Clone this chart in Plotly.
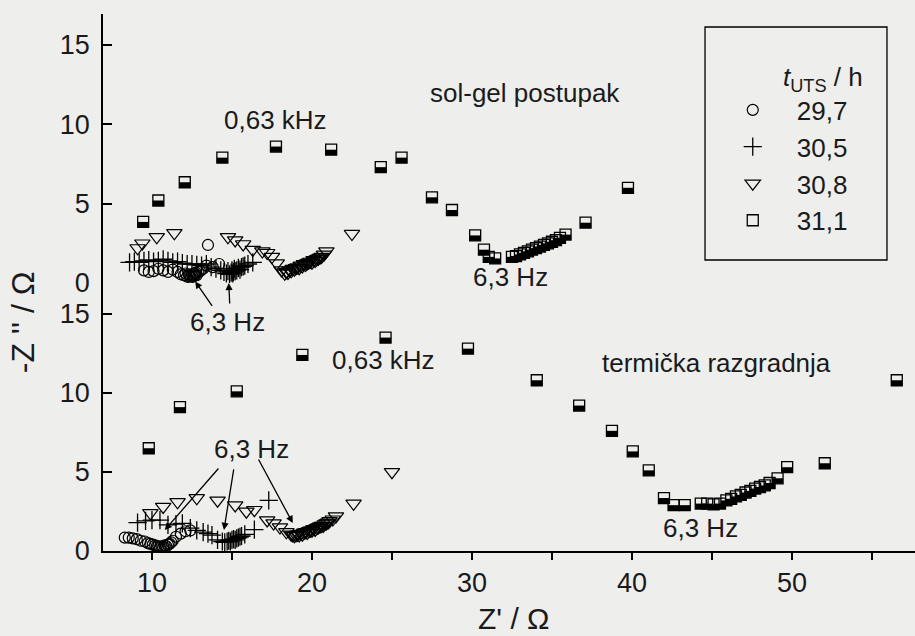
import plotly.graph_objects as go

# ---- datos: sol-gel postupak (panel superior) ----
circ_x_sg = [9.5, 9.8, 10.1, 10.4, 10.7, 11.0, 11.3, 11.6, 11.8, 12.0, 12.1, 12.2, 12.3, 12.35, 12.4, 12.5, 12.55, 12.6, 12.65, 12.7, 12.75, 12.8, 12.9, 13.0, 13.2, 13.5, 13.4, 13.8, 14.2]
circ_y_sg = [0.8, 0.7, 0.75, 0.9, 0.8, 0.7, 0.85, 0.7, 0.55, 0.5, 0.6, 0.4, 0.55, 0.45, 0.35, 0.5, 0.4, 0.6, 0.45, 0.55, 0.65, 0.5, 0.7, 0.75, 0.9, 2.4, 1.1, 1.0, 1.2]

cross_x_sg = [8.6, 8.9, 9.2, 9.5, 9.8, 10.1, 10.4, 10.7, 11.0, 11.3, 11.6, 11.9, 12.2, 12.5, 12.8, 13.1, 13.4, 13.7, 14.0, 14.3, 14.5, 14.65, 14.75, 14.85, 14.95, 15.0, 15.05, 15.1, 15.15, 15.2, 15.3, 15.4, 15.5, 15.6, 15.7, 15.8, 16.0, 16.3]
cross_y_sg = [1.3, 1.35, 1.3, 1.4, 1.45, 1.35, 1.4, 1.5, 1.4, 1.3, 1.35, 1.25, 1.2, 1.2, 1.15, 1.1, 1.2, 1.0, 0.9, 0.8, 0.7, 0.6, 0.75, 0.55, 0.65, 0.8, 0.6, 0.7, 0.9, 0.75, 0.8, 0.95, 0.85, 1.0, 1.05, 1.1, 1.2, 1.3]

tri_x_sg = [9.1, 9.4, 10.3, 11.4, 14.75, 15.2, 15.7, 16.3, 16.9, 17.2, 17.5, 17.8, 18.1, 18.3, 18.4, 18.5, 18.6, 18.7, 18.8, 18.9, 19.0, 19.1, 19.2, 19.3, 19.4, 19.5, 19.6, 19.7, 19.8, 19.9, 20.0, 20.1, 20.2, 20.3, 20.4, 20.5, 20.6, 20.75, 20.9, 22.5]
tri_y_sg = [2.2, 2.5, 2.9, 3.15, 2.9, 2.7, 2.45, 2.1, 2.0, 1.9, 1.65, 1.25, 0.8, 0.6, 0.7, 0.65, 0.8, 0.75, 0.9, 0.85, 0.95, 1.0, 0.95, 1.1, 1.05, 1.2, 1.15, 1.25, 1.3, 1.35, 1.3, 1.45, 1.4, 1.5, 1.55, 1.6, 1.65, 1.8, 2.0, 3.1]

sq_x_sg = [9.45, 10.4, 12.05, 14.4, 17.75, 21.2, 24.3, 25.6, 27.5, 28.75, 30.2, 30.75, 31.05, 31.45, 32.5, 32.75, 33.0, 33.25, 33.5, 33.75, 34.0, 34.25, 34.5, 34.75, 35.0, 35.25, 35.5, 35.85, 37.1, 39.75]
sq_y_sg = [3.85, 5.2, 6.35, 7.9, 8.6, 8.4, 7.3, 7.9, 5.4, 4.6, 3.0, 2.1, 1.65, 1.55, 1.65, 1.7, 1.8, 1.9, 2.0, 2.1, 2.2, 2.3, 2.4, 2.5, 2.6, 2.7, 2.85, 3.05, 3.8, 6.0]

# ---- datos: termička razgradnja (panel inferior) ----
circ_x_td = [8.3, 8.55, 8.8, 9.05, 9.3, 9.55, 9.75, 9.9, 10.05, 10.2, 10.3, 10.4, 10.5, 10.6, 10.7, 10.8, 10.9, 11.0, 11.1, 11.2, 11.3, 11.5, 11.8, 12.1, 12.4]
circ_y_td = [0.85, 0.85, 0.8, 0.75, 0.65, 0.6, 0.5, 0.45, 0.4, 0.35, 0.3, 0.3, 0.25, 0.3, 0.25, 0.35, 0.3, 0.4, 0.45, 0.55, 0.65, 0.9, 1.1, 1.25, 1.3]

cross_x_td = [9.1, 9.6, 10.0, 10.5, 11.0, 11.5, 11.9, 12.4, 12.8, 13.2, 13.5, 13.75, 14.1, 14.4, 14.55, 14.7, 14.8, 14.9, 15.0, 15.1, 15.2, 15.3, 15.4, 15.5, 15.6, 15.8, 16.4, 17.3]
cross_y_td = [1.8, 1.9, 1.95, 1.95, 1.65, 1.7, 1.75, 1.45, 1.3, 1.2, 1.1, 1.0, 0.7, 0.6, 0.55, 0.6, 0.65, 0.6, 0.7, 0.75, 0.7, 0.8, 0.85, 0.9, 0.95, 1.05, 1.35, 3.2]

tri_x_td = [9.9, 10.7, 11.6, 12.8, 14.1, 15.2, 15.9, 16.4, 17.2, 17.6, 18.0, 18.4, 18.7, 18.8, 18.9, 19.0, 19.1, 19.2, 19.3, 19.4, 19.5, 19.6, 19.7, 19.8, 19.9, 20.0, 20.1, 20.2, 20.3, 20.4, 20.5, 20.6, 20.7, 20.8, 20.9, 21.0, 21.1, 21.3, 21.5, 22.6, 25.0]
tri_y_td = [2.4, 2.8, 3.1, 3.35, 3.2, 2.9, 2.5, 2.6, 1.95, 1.75, 1.5, 1.2, 1.05, 1.0, 0.95, 1.0, 1.05, 1.0, 1.1, 1.05, 1.15, 1.2, 1.15, 1.25, 1.3, 1.3, 1.4, 1.35, 1.45, 1.5, 1.55, 1.6, 1.6, 1.7, 1.75, 1.8, 1.9, 2.0, 2.2, 3.0, 5.0]

sq_x_td = [9.8, 11.75, 15.3, 19.4, 24.6, 29.75, 34.05, 36.7, 38.75, 40.05, 41.05, 42.0, 42.6, 43.3, 44.3, 44.7, 45.1, 45.5, 45.9, 46.2, 46.5, 46.8, 47.1, 47.4, 47.7, 48.0, 48.3, 48.6, 49.1, 49.7, 52.05, 56.55]
sq_y_td = [6.5, 9.1, 10.1, 12.4, 13.5, 12.8, 10.8, 9.2, 7.6, 6.3, 5.1, 3.35, 2.9, 2.9, 3.0, 3.0, 2.95, 3.0, 3.2, 3.3, 3.45, 3.55, 3.7, 3.8, 3.95, 4.05, 4.15, 4.3, 4.6, 5.3, 5.55, 10.8]

series_names = ["29,7", "30,5", "30,8", "31,1"]
x_ticks = [10, 20, 30, 40, 50]
y_ticks = [0, 5, 10, 15]

BG = "#eeeeec"
FONT = "Liberation Sans, Arial, sans-serif"
TXT = "#1a1a1a"

fig = go.Figure()

def add_panel(xa, ya, cx, cy, px_, py_, tx, ty, sx, sy, legend):
    fig.add_trace(go.Scatter(x=cx, y=cy, mode="markers", name=series_names[0],
                             xaxis=xa, yaxis=ya, showlegend=legend,
                             marker=dict(symbol="circle-open", size=11, color="black",
                                         line=dict(width=1.2))))
    fig.add_trace(go.Scatter(x=px_, y=py_, mode="markers", name=series_names[1],
                             xaxis=xa, yaxis=ya, showlegend=legend,
                             marker=dict(symbol="cross-thin-open", size=13, color="black",
                                         line=dict(width=1.3, color="black"))))
    fig.add_trace(go.Scatter(x=tx, y=ty, mode="markers", name=series_names[2],
                             xaxis=xa, yaxis=ya, showlegend=legend,
                             marker=dict(symbol="triangle-down-open", size=13.5, color="black",
                                         line=dict(width=1.2))))
    fig.add_trace(go.Scatter(x=sx, y=sy, mode="markers", name=series_names[3],
                             xaxis=xa, yaxis=ya, showlegend=legend,
                             marker=dict(symbol="square-open", size=11, color="black",
                                         line=dict(width=1.3))))
    # mitad superior negra del cuadrado
    fig.add_trace(go.Scatter(x=sx, y=sy, mode="markers", xaxis=xa, yaxis=ya,
                             showlegend=False, hoverinfo="skip",
                             marker=dict(symbol="line-ew", size=7.9, angle=0, standoff=2.7,
                                         line=dict(width=5.4, color="black"))))

add_panel("x2", "y2", circ_x_sg, circ_y_sg, cross_x_sg, cross_y_sg,
          tri_x_sg, tri_y_sg, sq_x_sg, sq_y_sg, True)
add_panel("x", "y", circ_x_td, circ_y_td, cross_x_td, cross_y_td,
          tri_x_td, tri_y_td, sq_x_td, sq_y_td, False)

axis_font = dict(family=FONT, size=27, color=TXT)
yax = dict(range=[0, 16.95], tickvals=y_ticks, ticks="inside", ticklen=9, tickwidth=1.5,
           tickcolor="black", showline=True, linecolor="black", linewidth=1.5,
           showgrid=False, zeroline=False, tickfont=axis_font, ticklabelstandoff=6)

ann_font = dict(family=FONT, size=26, color=TXT)
annotations = [
    dict(text="0,63 kHz", x=17.75, y=10.27, xref="x2", yref="y2", showarrow=False, font=ann_font),
    dict(text="sol-gel postupak", x=33.3, y=11.95, xref="x2", yref="y2", showarrow=False, font=ann_font),
    dict(text="6,3 Hz", x=32.4, y=0.38, xref="x2", yref="y2", showarrow=False, font=ann_font),
    dict(text="6,3 Hz", x=14.75, y=14.5, xref="x", yref="y", showarrow=False, font=ann_font),
    dict(text="0,63 kHz", x=24.5, y=12.1, xref="x", yref="y", showarrow=False, font=ann_font),
    dict(text="termička razgradnja", x=45.3, y=11.9, xref="x", yref="y", showarrow=False, font=ann_font),
    dict(text="6,3 Hz", x=44.3, y=1.46, xref="x", yref="y", showarrow=False, font=ann_font),
    dict(text="6,3 Hz", x=16.25, y=6.46, xref="x", yref="y", showarrow=False, font=ann_font),
    # titulos de ejes
    dict(text="-Z '' / Ω", x=0, y=0.426, xref="paper", yref="paper", xshift=-80,
         xanchor="center", yanchor="middle", textangle=-90, showarrow=False,
         font=dict(family=FONT, size=32, color=TXT)),
    dict(text="Z' / Ω", x=0.505, y=0, xref="paper", yref="paper", yshift=-67,
         xanchor="center", yanchor="middle", showarrow=False,
         font=dict(family=FONT, size=30, color=TXT)),
]

# flechas hacia 6,3 Hz
arrow_style = dict(showarrow=True, arrowhead=2, arrowsize=1.1, arrowwidth=1.3,
                   arrowcolor="black", text="")
for xx, yy, ax, ay in [(12.7, 0.1, 18, 26), (14.8, 0.0, 1, 22), (18.1, -0.05, -44, 22)]:
    annotations.append(dict(x=xx, y=yy, xref="x2", yref="y2", ax=ax, ay=ay, **arrow_style))
for xx, yy, ax, ay in [(10.8, 1.33, 55, -63), (14.5, 1.33, 10, -62), (18.8, 1.77, -35, -65)]:
    annotations.append(dict(x=xx, y=yy, xref="x", yref="y", ax=ax, ay=ay, **arrow_style))

fig.update_layout(
    width=915, height=636,
    margin=dict(l=103, r=0, t=14, b=85),
    paper_bgcolor=BG, plot_bgcolor=BG,
    font=dict(family=FONT, color=TXT),
    xaxis=dict(domain=[0, 1], anchor="y", range=[6.94, 57.69], tickvals=x_ticks,
               ticks="outside", ticklen=7, tickwidth=1.5, tickcolor="black",
               minor=dict(dtick=5, tick0=0, ticks="outside", ticklen=7, tickwidth=1.5,
                          tickcolor="black"),
               showline=True, linecolor="black", linewidth=1.5, showgrid=False,
               zeroline=False, tickfont=axis_font, ticklabelstandoff=0),
    xaxis2=dict(domain=[0, 1], anchor="y2", matches="x", showticklabels=False,
                showline=False, ticks="", showgrid=False, zeroline=False),
    yaxis=dict(domain=[0, 0.499], anchor="x", **yax),
    yaxis2=dict(domain=[0.499, 1], anchor="x2", **yax),
    legend=dict(x=0.746, y=0.928, xanchor="left", yanchor="top",
                bgcolor="rgba(0,0,0,0)", borderwidth=0,
                font=dict(family=FONT, size=26, color=TXT),
                title=dict(text="\u00a0" * 10 + "<i>t</i><sub>UTS</sub> / h", side="top",
                           font=dict(family=FONT, size=26)),
                itemwidth=78),
    shapes=[dict(type="rect", xref="paper", yref="paper",
                 x0=0.7414, x1=0.9655, y0=0.5419, y1=0.9758,
                 line=dict(color="black", width=1.3))],
    annotations=annotations,
)

fig.write_html("out.html", config={"displayModeBar": False},
               post_script="document.body.style.margin='0';")
